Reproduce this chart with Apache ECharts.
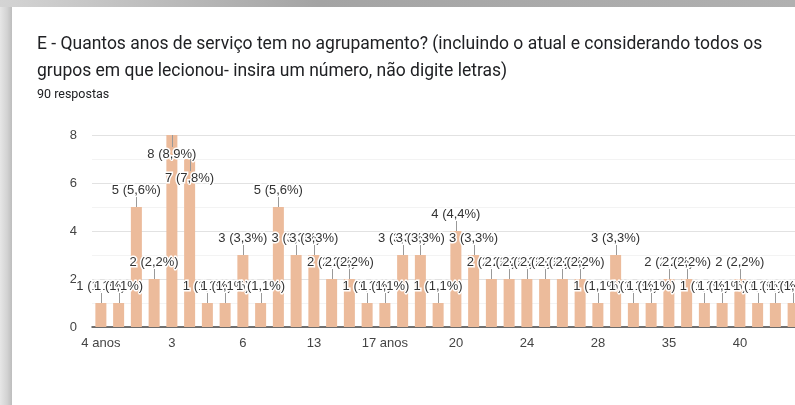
<!DOCTYPE html>
<html>
<head>
<meta charset="utf-8">
<script src="https://cdn.jsdelivr.net/npm/echarts@6/dist/echarts.min.js"></script>
<style>
html,body{margin:0;padding:0;background:#fff;overflow:hidden;}
#chart{width:795px;height:405px;}
</style>
</head>
<body>
<div id="chart"></div>
<script>
// Categories (answers) – only every 4th is shown on the axis
const categories = ["4 anos","1 ano","1","2","3","4","5","5 anos","6","7","10","12",
  "13","14","15","16","17 anos","17","18","19","20","21","22","23",
  "24","25","26","27","28","30","31","33","35","36","37","38",
  "40","42","44","45"];
// Number of responses per answer
const counts = [1,1,5,2,8,7,1,1,3,1,5,3,
  3,2,2,1,1,3,3,1,4,3,2,2,
  2,2,2,2,1,3,1,1,2,2,1,1,
  2,1,1,1];
const yTicks = [0,2,4,6,8];
const titleText = "E - Quantos anos de serviço tem no agrupamento? (incluindo o atual e considerando todos os\ngrupos em que lecionou- insira um número, não digite letras)";
const subText = "90 respostas";

const total = counts.reduce((a,b)=>a+b,0);
function pctLabel(v){
  const p = Math.round(v/total*1000)/10;
  return v + " (" + p.toFixed(1).replace(".", ",") + "%)";
}

const chart = echarts.init(document.getElementById('chart'), null, {renderer:'canvas'});
const option = {
  animation:false,
  backgroundColor:'#fff',
  title:{
    text:titleText,
    subtext:subText,
    left:37, top:31, padding:0, itemGap:3,
    textStyle:{fontFamily:'Roboto', fontSize:17.5, fontWeight:'normal', color:'#202124', lineHeight:27},
    subtextStyle:{fontFamily:'Roboto', fontSize:12.5, color:'#202124', lineHeight:14}
  },
  graphic:[
    {type:'rect', left:0, top:0, shape:{width:12, height:405},
     style:{fill:{type:'linear',x:0,y:0,x2:1,y2:0,colorStops:[{offset:0,color:'#e6e6e6'},{offset:0.6,color:'#d2d2d2'},{offset:1,color:'#bdbdbd'}]}}, z:100},
    {type:'rect', left:0, top:0, shape:{width:795, height:7},
     style:{fill:{type:'linear',x:0,y:0,x2:1,y2:0,colorStops:[{offset:0,color:'#d4d4d4'},{offset:0.4,color:'#a4a4a4'},{offset:1,color:'#b0b0b0'}]}}, z:100}
  ],
  grid:{left:92, top:135, width:710, height:192, outerBoundsMode:'none', containLabel:false},
  xAxis:{
    type:'category', data:categories,
    axisTick:{show:false},
    axisLine:{show:true, lineStyle:{color:'#444', width:1.5}},
    axisLabel:{interval:3, margin:10, color:'#444', fontSize:13, fontFamily:'Liberation Sans'}
  },
  yAxis:{
    type:'value', min:yTicks[0], max:yTicks[yTicks.length-1], interval:2,
    axisLine:{show:false}, axisTick:{show:false},
    axisLabel:{margin:15, color:'#444', fontSize:13, fontFamily:'Liberation Sans'},
    splitLine:{lineStyle:{color:'#e2e2e2'}},
    minorTick:{show:false, splitNumber:2},
    minorSplitLine:{show:true, lineStyle:{color:'#f3f3f3'}}
  },
  series:[
    {
      type:'bar', data:counts, barCategoryGap:'38%',
      itemStyle:{color:'#ecbb9b'}, z:2
    },
    {
      type:'custom', z:5,
      data:counts.map((v,i)=>[i,v]),
      encode:{x:0,y:1},
      renderItem:function(params, api){
        const v = api.value(1);
        const pt = api.coord([api.value(0), v]);
        const inside = v >= 7;
        const x = Math.round(pt[0]) + 0.5;
        const y0 = pt[1];
        const y1 = inside ? y0 + 12 : y0 - 10;
        const ty = inside ? y0 + 19 : y0 - 17;
        return {
          type:'group',
          children:[
            {type:'line', shape:{x1:x, y1:y0, x2:x, y2:y1}, style:{stroke:'#999', lineWidth:1}},
            {type:'text', x:pt[0], y:ty,
             style:{text:pctLabel(v), fill:'#333', stroke:'#fff', lineWidth:3,
                    font:'13px "Liberation Sans"', align:'center', verticalAlign:'middle'}}
          ]
        };
      }
    }
  ]
};
chart.setOption(option);
</script>
</body>
</html>
